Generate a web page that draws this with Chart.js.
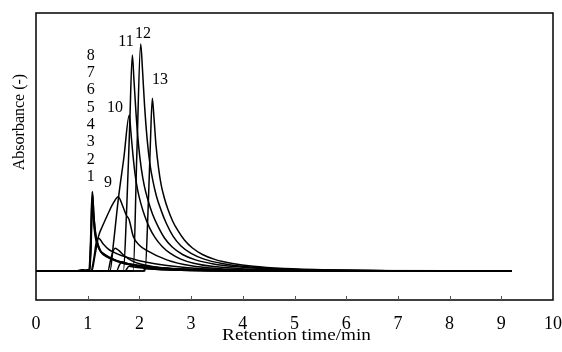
<!DOCTYPE html>
<html>
<head>
<meta charset="utf-8">
<script src="https://cdn.jsdelivr.net/npm/chart.js@4/dist/chart.umd.min.js"></script>
<style>
  html, body { margin: 0; padding: 0; background: #fff; }
</style>
</head>
<body>
<canvas id="chart" width="562" height="352"></canvas>
<script>
// chromatogram traces (time in min, absorbance in arbitrary units)
const peak1Time = [0, 0.8, 0.88, 0.95, 1.03, 1.06, 1.089, 1.11, 1.14, 1.174, 1.24, 1.33, 1.43, 1.68, 2.0, 2.5, 3.2, 4.5, 9.2];
const peak1Abs  = [0, 0, 0.4, 0.3, 0.5, 12, 30.7, 23, 16, 12, 8, 6.2, 5, 3.1, 2, 1, 0.4, 0.1, 0];
const peak2Time = [0, 0.9, 1.04, 1.065, 1.095, 1.12, 1.15, 1.19, 1.26, 1.36, 1.5, 1.75, 2.1, 2.6, 3.3, 4.6, 9.2];
const peak2Abs  = [0, 0, 0.5, 10, 29.5, 21, 14.5, 10.5, 7.2, 5.6, 4.3, 2.8, 1.7, 0.9, 0.35, 0.1, 0];
const peak3Time = [0, 0.9, 1.035, 1.06, 1.085, 1.105, 1.135, 1.17, 1.23, 1.32, 1.45, 1.7, 2.0, 2.5, 3.2, 4.5, 9.2];
const peak3Abs  = [0, 0, 0.5, 11, 28, 22, 15, 11, 8.2, 6.5, 5, 3.2, 2.1, 1.1, 0.45, 0.1, 0];
const peak4Time = [0, 1.0, 1.06, 1.12, 1.16, 1.205, 1.3, 1.4, 1.5, 1.65, 1.82, 2.0, 2.3, 2.7, 3.2, 4.0, 5.0, 9.2];
const peak4Abs  = [0, 0, 0, 5, 10.5, 12.8, 10.5, 8.5, 7.3, 6, 5, 4, 2.8, 1.7, 0.9, 0.4, 0.1, 0];
const peak5Time = [0, 1.3, 1.39, 1.45, 1.53, 1.6, 1.7, 1.85, 2.0, 2.3, 2.8, 3.5, 9.2];
const peak5Abs  = [0, 0, 0, 5, 8.8, 8, 6, 4, 2.8, 1.6, 0.7, 0.2, 0];
const peak6Time = [0, 1.5, 1.56, 1.61, 1.66, 1.75, 1.9, 2.2, 2.7, 3.5, 9.2];
const peak6Abs  = [0, 0, 0, 2.2, 3.6, 3, 2, 1.1, 0.5, 0.1, 0];
const peak7Time = [0, 1.65, 1.72, 1.8, 1.9, 2.2, 2.8, 3.6, 9.2];
const peak7Abs  = [0, 0, 0, 1.8, 1.5, 0.8, 0.3, 0.1, 0];
const peak8Time = [0, 2.0, 2.07, 2.12, 2.3, 2.8, 3.6, 9.2];
const peak8Abs  = [0, 0, 0, 1, 0.7, 0.3, 0.1, 0];
const peak9Time = [0, 1.0, 1.08, 1.14, 1.21, 1.3, 1.4, 1.5, 1.59, 1.68, 1.75, 1.8, 1.88, 2.0, 2.14, 2.53, 3.0, 3.5, 4.3, 5.5, 9.2];
const peak9Abs  = [0, 0, 0, 6, 13.5, 18, 22.5, 26.5, 28.8, 25, 21.5, 20, 13.5, 10, 8, 4.3, 2, 1, 0.4, 0.1, 0];
const peak10Time = [0, 1.35, 1.43, 1.5, 1.59, 1.7, 1.805, 1.835, 1.875, 1.92, 1.97, 2.03, 2.1, 2.19, 2.3, 2.44, 2.6, 2.8, 3.05, 3.4, 3.9, 4.6, 5.6, 9.2];
const peak10Abs  = [0, 0, 0, 11, 27.5, 44, 60.5, 54, 45, 37, 31, 26, 21.5, 17, 13, 9.5, 6.8, 4.6, 3, 1.8, 1, 0.45, 0.15, 0];
const peak11Time = [0, 1.6, 1.69, 1.75, 1.81, 1.863, 1.895, 1.935, 1.985, 2.035, 2.095, 2.165, 2.255, 2.355, 2.485, 2.635, 2.835, 3.085, 3.435, 3.835, 4.435, 5.3, 7.0, 9.2];
const peak11Abs  = [0, 0, 0, 22, 55, 83.7, 74, 61, 48.5, 40, 33, 27.5, 22, 17.5, 12.8, 9.3, 6.4, 4.3, 2.7, 1.7, 0.85, 0.4, 0.1, 0];
const peak12Time = [0, 1.8, 1.88, 1.95, 2.025, 2.06, 2.1, 2.15, 2.2, 2.26, 2.33, 2.42, 2.52, 2.65, 2.8, 3.0, 3.25, 3.6, 4.0, 4.6, 5.5, 7.0, 9.2];
const peak12Abs  = [0, 0, 0, 45, 88, 78, 64, 51, 42, 35, 29, 23.5, 18.5, 13.5, 9.8, 6.8, 4.6, 2.9, 1.8, 0.9, 0.4, 0.1, 0];
const peak13Time = [0, 2.0, 2.11, 2.17, 2.21, 2.25, 2.28, 2.32, 2.37, 2.42, 2.48, 2.55, 2.64, 2.74, 2.87, 3.02, 3.22, 3.47, 3.8, 4.2, 4.8, 5.7, 7.0, 9.2];
const peak13Abs  = [0, 0, 0, 25, 48, 67, 60, 49, 40, 33.5, 28.5, 24, 19.5, 15.8, 12, 9, 6.4, 4.4, 2.9, 1.8, 0.95, 0.4, 0.1, 0];

// peak number labels and where they sit
const peakNames = ['1', '2', '3', '4', '5', '6', '7', '8', '9', '10', '11', '12', '13'];
const labelTime = [1.058, 1.058, 1.058, 1.058, 1.058, 1.058, 1.058, 1.058, 1.393, 1.528, 1.741, 2.07, 2.398];
const labelAbs  = [36.4, 43.1, 49.9, 56.6, 63.4, 70.1, 76.8, 83.6, 34.1, 63.2, 88.8, 91.9, 74.0];

const traces = [
  [peak1Time, peak1Abs, 2], [peak2Time, peak2Abs, 1.6], [peak3Time, peak3Abs, 1.6],
  [peak4Time, peak4Abs, 1.5], [peak5Time, peak5Abs, 1.5], [peak6Time, peak6Abs, 1.5],
  [peak7Time, peak7Abs, 1.5], [peak8Time, peak8Abs, 1.5], [peak9Time, peak9Abs, 1.5],
  [peak10Time, peak10Abs, 1.5], [peak11Time, peak11Abs, 1.5], [peak12Time, peak12Abs, 1.5],
  [peak13Time, peak13Abs, 1.5]
];

const serif = '"Liberation Serif", "DejaVu Serif", serif';

function getDataSets() {
  return traces.map(function (tr, i) {
    return {
      label: 'peak ' + (i + 1),
      data: tr[0].map(function (t, j) { return { x: t, y: tr[1][j] }; }),
      borderColor: '#000',
      borderWidth: tr[2],
      pointRadius: 0,
      fill: false,
      cubicInterpolationMode: 'monotone'
    };
  });
}

const framePlugin = {
  id: 'frame',
  afterDraw: function (chart) {
    const ctx = chart.ctx;
    const a = chart.chartArea;
    const x = chart.scales.x;
    const y = chart.scales.y;
    ctx.save();
    ctx.strokeStyle = '#000';
    ctx.lineWidth = 1.5;
    ctx.strokeRect(a.left, a.top, a.right - a.left, a.bottom - a.top);

    // small inward ticks along the bottom
    ctx.lineWidth = 1;
    ctx.strokeStyle = '#555';
    for (let v = 1; v < 10; v++) {
      const px = Math.round(x.getPixelForValue(v)) + 0.5;
      ctx.beginPath();
      ctx.moveTo(px, a.bottom);
      ctx.lineTo(px, a.bottom - 4);
      ctx.stroke();
    }

    // peak numbers
    ctx.fillStyle = '#000';
    ctx.font = '16px ' + serif;
    ctx.textAlign = 'center';
    ctx.textBaseline = 'middle';
    peakNames.forEach(function (name, i) {
      ctx.fillText(name, x.getPixelForValue(labelTime[i]), y.getPixelForValue(labelAbs[i]));
    });

    // axis titles (the scan is a little wider than tall, so stretch x title)
    ctx.textBaseline = 'alphabetic';
    ctx.save();
    ctx.translate((a.left + a.right) / 2 + 2, 340);
    ctx.scale(1.2, 1);
    ctx.fillText('Retention time/min', 0, 0);
    ctx.restore();
    ctx.translate(24, 122);
    ctx.rotate(-Math.PI / 2);
    ctx.fillText('Absorbance (-)', 0, 0);
    ctx.restore();
  }
};

function drawChart() {
  new Chart(document.getElementById('chart'), {
    type: 'line',
    data: { datasets: getDataSets() },
    plugins: [framePlugin],
    options: {
      responsive: false,
      animation: false,
      layout: { padding: { left: 36, top: 13, right: 9, bottom: 0 } },
      plugins: {
        legend: { display: false },
        tooltip: { enabled: false }
      },
      scales: {
        x: {
          type: 'linear',
          min: 0,
          max: 10,
          grid: { display: false, drawTicks: false },
          border: { display: false },
          ticks: {
            stepSize: 1,
            color: '#000',
            padding: 13,
            maxRotation: 0,
            font: { family: serif, size: 18 }
          },
          afterFit: function (s) {
            s.height = 52;
            s.paddingLeft = 0;
            s.paddingRight = 0;
          }
        },
        y: {
          display: false,
          min: -11.24,
          max: 100
        }
      }
    }
  });
}

drawChart();
</script>
</body>
</html>
